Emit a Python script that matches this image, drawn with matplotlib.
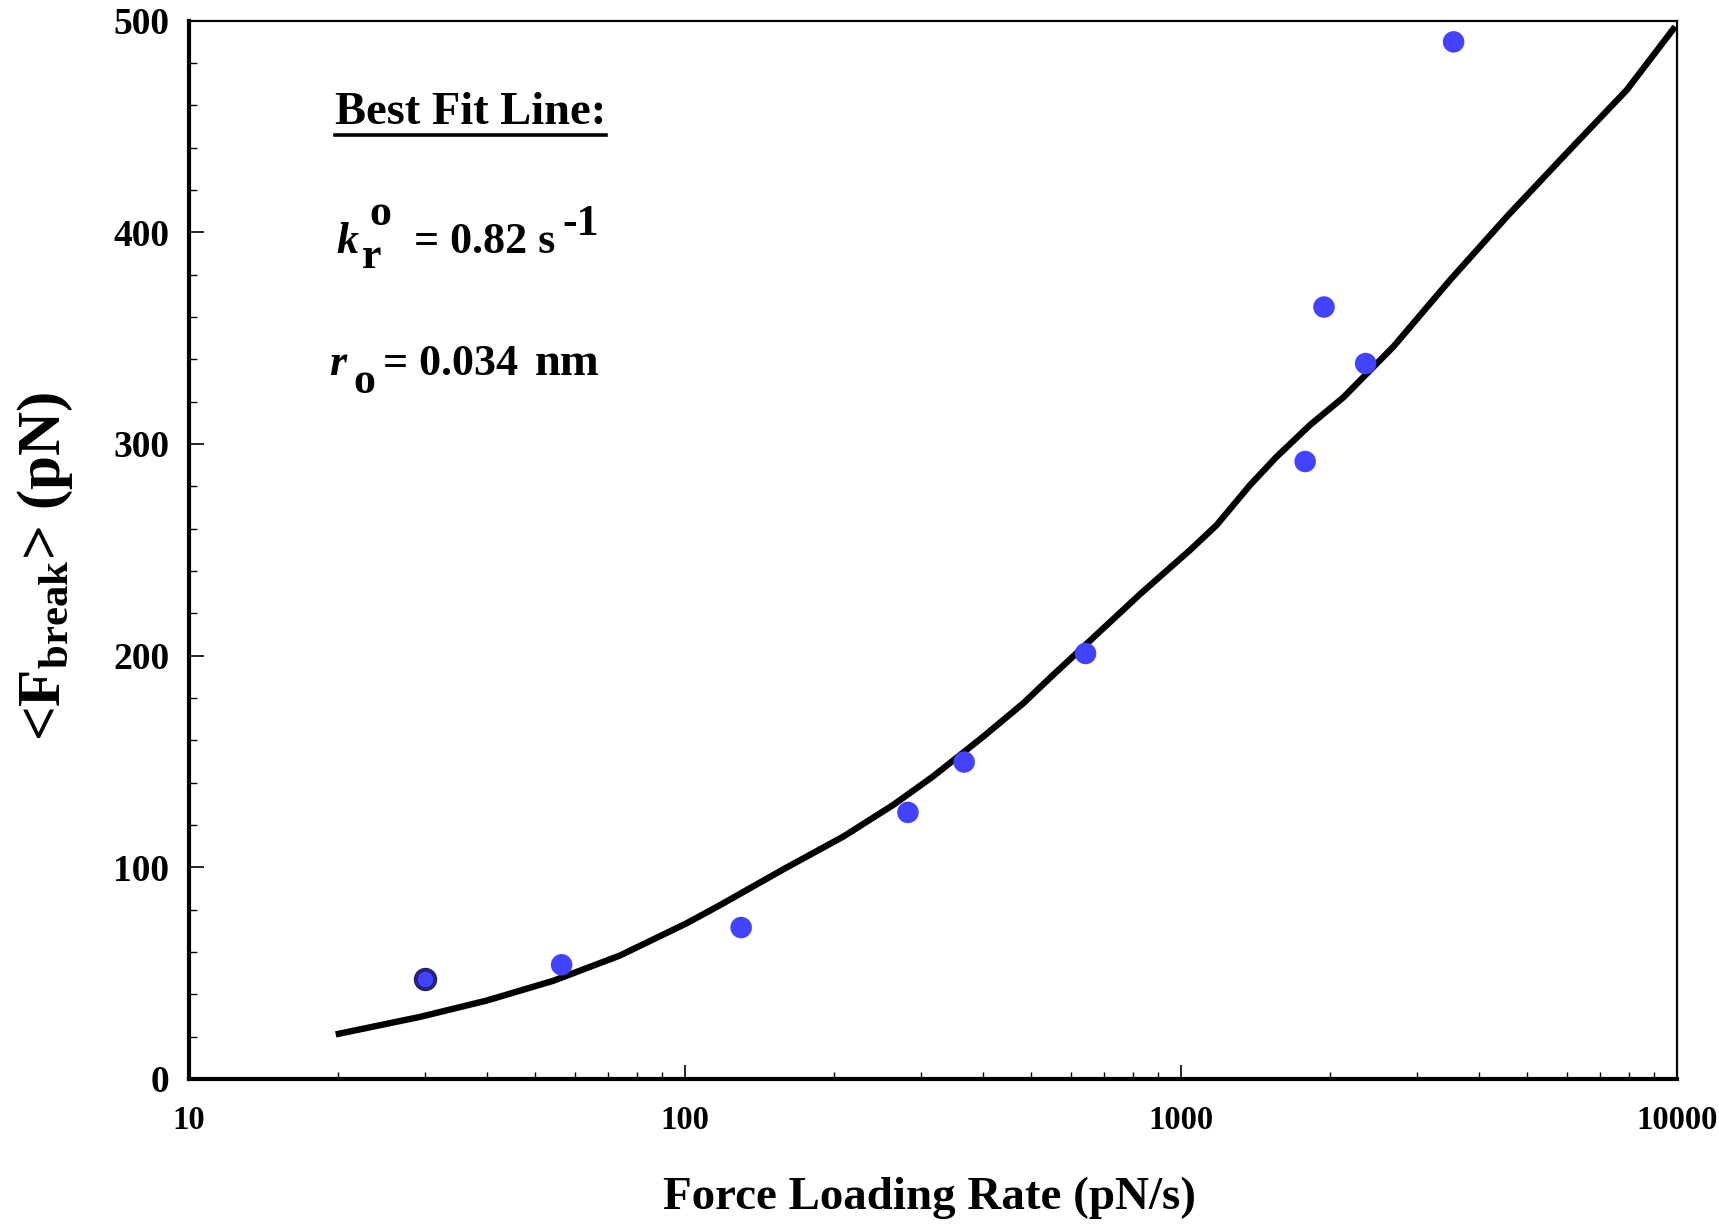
import matplotlib
matplotlib.use("Agg")
import matplotlib.pyplot as plt
from matplotlib.lines import Line2D
from matplotlib.ticker import MultipleLocator, LogLocator, NullFormatter, FixedLocator, FixedFormatter

plt.rcParams['font.family'] = ['Liberation Serif', 'DejaVu Serif']
plt.rcParams['font.weight'] = 'bold'
plt.rcParams['mathtext.fontset'] = 'custom'
plt.rcParams['mathtext.rm'] = 'Liberation Serif:bold'
plt.rcParams['mathtext.it'] = 'Liberation Serif:italic:bold'
plt.rcParams['mathtext.bf'] = 'Liberation Serif:bold'

# Measured mean rupture forces vs. loading rate
loading_rate = [30, 56.5, 130, 282, 366, 643, 1782, 1945, 2360, 3550]
mean_force = [47.2, 53.9, 71.5, 125.9, 149.7, 201.0, 291.7, 364.7, 338.0, 490.0]

# Best-fit model curve (tabulated)
fit_rate = [19.8, 29.3, 39.9, 54.3, 74.1, 100.9, 117.9, 158.1, 209, 263.6, 317.2,
            399.9, 481.9, 545.4, 828, 1045, 1182, 1380, 1562, 1824, 2128,
            2685, 3493, 4545, 6003, 7933, 9927]
fit_force = [21.0, 29.3, 37.0, 46.3, 58.3, 73.5, 82.1, 99.0, 114.5, 129.5, 143.0,
             161.7, 177.5, 189.5, 229.0, 249.9, 261.7, 280.6, 294.0, 309.0, 322.0,
             346.0, 377.5, 407.4, 437.5, 467.3, 497.2]

x_ticks = [10, 100, 1000, 10000]
x_ticklabels = ['10', '100', '1000', '10000']
y_ticks = [0, 100, 200, 300, 400, 500]

W, H = 1719, 1225
fig = plt.figure(figsize=(W / 100, H / 100), dpi=100)
ax = fig.add_axes([0.1097, 0.1193, 0.8657, 0.8638])

ax.plot(fit_rate, fit_force, color='black', lw=4.6, solid_capstyle='butt',
        solid_joinstyle='round', zorder=2)
ax.scatter(loading_rate[1:], mean_force[1:], s=15.5**2, color='#4242ff', edgecolors='none', zorder=3)
# first point carries a double dark outline
ax.scatter(loading_rate[:1], mean_force[:1], s=15.5**2, color='#4242ff',
           edgecolors='#1c1c60', linewidths=1.3, zorder=3)
ax.scatter(loading_rate[:1], mean_force[:1], s=12.5**2, color='#4242ff',
           edgecolors='#1c1c60', linewidths=1.1, zorder=4)

ax.set_xscale('log')
ax.set_xlim(10, 10000)
ax.set_ylim(0, 500)
ax.xaxis.set_major_locator(FixedLocator(x_ticks))
ax.xaxis.set_major_formatter(FixedFormatter(x_ticklabels))
ax.xaxis.set_minor_locator(LogLocator(base=10, subs=range(2, 10)))
ax.xaxis.set_minor_formatter(NullFormatter())
ax.yaxis.set_major_locator(FixedLocator(y_ticks))
ax.yaxis.set_minor_locator(MultipleLocator(20))

ax.tick_params(axis='both', which='both', direction='in', top=False, right=False, colors='black')
ax.tick_params(axis='y', which='major', length=11, width=1.2, labelsize=27, pad=14)
ax.tick_params(axis='y', which='minor', length=6, width=1.0)
ax.tick_params(axis='x', which='major', length=10, width=1.2, labelsize=23.5, pad=19)
ax.tick_params(axis='x', which='minor', length=5, width=1.0)
for lab in ax.get_xticklabels() + ax.get_yticklabels():
    lab.set_fontweight('bold')

ax.spines['left'].set_linewidth(3.0)
ax.spines['bottom'].set_linewidth(3.0)
ax.spines['top'].set_linewidth(1.6)
ax.spines['right'].set_linewidth(1.6)

ax.set_xlabel('Force Loading Rate (pN/s)', fontsize=33.8, fontweight='bold')
ax.xaxis.set_label_coords(0.498, -0.092)
ax.set_ylabel(r'<F$_{\mathrm{break}}$> (pN)', fontsize=44, fontweight='bold')
ax.yaxis.set_label_coords(-0.076, 0.484)


def put(x, y, s, size, style='normal'):
    """Place text with its left baseline at pixel (x, y) measured from the top-left."""
    return fig.text(x / W, 1 - y / H, s, fontsize=size, fontweight='bold',
                    fontstyle=style, ha='left', va='baseline')


# Fit parameters annotation
title = put(335, 124, 'Best Fit Line:', 33.5)

put(336, 253, 'k', 31.7, 'italic')
put(362, 268, 'r', 31.7)
put(369, 225, 'o', 31.7)
put(414, 253, '= 0.82 s', 31.7)
put(562, 235, '-1', 31.7)

put(329, 375, 'r', 31.7, 'italic')
put(353, 393, 'o', 31.7)
put(383, 375, '= 0.034', 31.7)
put(535, 375, 'nm', 33.5)

fig.canvas.draw()
bb = title.get_window_extent().transformed(fig.transFigure.inverted())
uy = 1 - 135 / H
fig.add_artist(Line2D([bb.x0, bb.x1], [uy, uy], color='black', lw=2.6, transform=fig.transFigure))

fig.savefig('out.png', dpi=100, facecolor='white')
